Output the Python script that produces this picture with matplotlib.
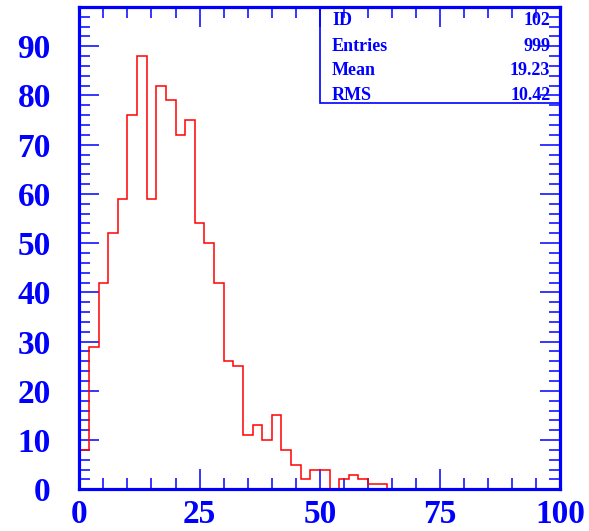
import numpy as np
import matplotlib
matplotlib.use("Agg")
import matplotlib.pyplot as plt
from matplotlib.ticker import MultipleLocator
from matplotlib.patches import Rectangle

# Histogram contents: 50 bins of width 2 over [0, 100]
bin_edges = np.arange(0, 102, 2)
counts = [8, 29, 42, 52, 59, 76, 88, 59, 82, 79,
          72, 75, 54, 50, 42, 26, 25, 11, 13, 10,
          15, 8, 5, 2, 4, 4, 0, 2, 3, 2,
          1, 1, 0, 0, 0, 0, 0, 0, 0, 0,
          0, 0, 0, 0, 0, 0, 0, 0, 0, 0]

# Statistics box entries
stat_names = ["ID", "Entries", "Mean", "RMS"]
stat_values = ["102", "999", "19.23", "10.42"]

x_ticks = [0, 25, 50, 75, 100]
y_ticks = [0, 10, 20, 30, 40, 50, 60, 70, 80, 90]

BLUE = "#0000ff"
RED = "#ff0000"
SERIF = "Liberation Serif"

fig = plt.figure(figsize=(5.89, 5.31), dpi=100)
ax = fig.add_axes([0.1346, 0.0785, 0.817, 0.9077])

ax.stairs(counts, bin_edges, color=RED, linewidth=1.1, baseline=0, zorder=2)

ax.set_xlim(0, 100)
ax.set_ylim(0, 97.9)

ax.set_xticks(x_ticks)
ax.set_yticks(y_ticks)
ax.xaxis.set_minor_locator(MultipleLocator(5))
ax.yaxis.set_minor_locator(MultipleLocator(2))

for s in ax.spines.values():
    s.set_color(BLUE)
    s.set_linewidth(2.3)
    s.set_zorder(4)

ax.tick_params(which="both", direction="in", top=True, right=True,
               color=BLUE, width=1.1, zorder=5)
ax.tick_params(which="major", length=14.5)
ax.tick_params(which="minor", length=8)
ax.tick_params(axis="y", which="major", pad=20.5)
ax.tick_params(axis="x", which="major", pad=7)

for lab in ax.get_xticklabels() + ax.get_yticklabels():
    lab.set_fontfamily(SERIF)
    lab.set_fontweight("bold")
    lab.set_fontsize(24)
    lab.set_color(BLUE)

# Statistics box in the upper right corner
box = Rectangle((0.5, 0.801), 0.5, 0.199, transform=ax.transAxes,
                fill=False, edgecolor=BLUE, linewidth=1.2, zorder=3)
ax.add_patch(box)
baselines = [0.963, 0.910, 0.860, 0.808]
for name, val, yb in zip(stat_names, stat_values, baselines):
    ax.text(0.525, yb, name, transform=ax.transAxes, ha="left", va="baseline",
            fontfamily=SERIF, fontweight="bold", fontsize=13, color=BLUE, zorder=3)
    ax.text(0.979, yb, val, transform=ax.transAxes, ha="right", va="baseline",
            fontfamily=SERIF, fontweight="bold", fontsize=13, color=BLUE, zorder=3)

fig.savefig("out.png", dpi=100)
